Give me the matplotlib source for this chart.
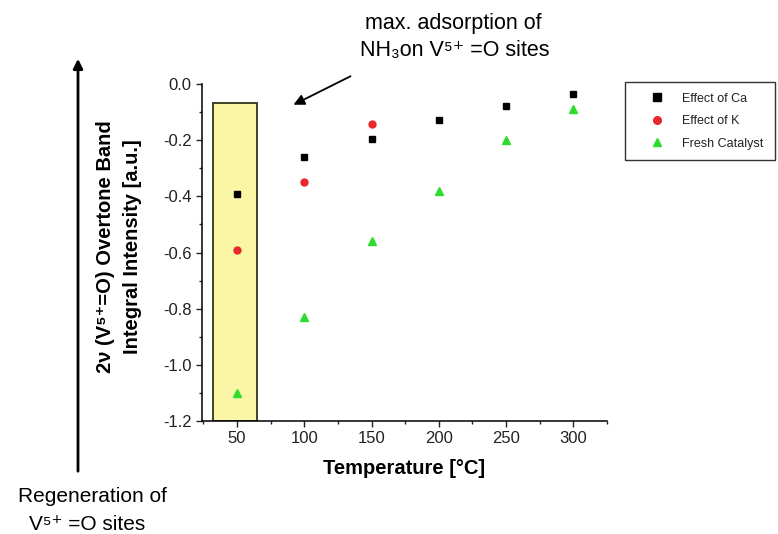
import matplotlib
matplotlib.use("Agg")
import matplotlib.pyplot as plt
from matplotlib.patches import Rectangle
from matplotlib.ticker import MultipleLocator

plt.rcParams['font.family'] = ['Liberation Sans', 'DejaVu Sans']

# integral intensity of the 2v(V5+=O) overtone band vs temperature
temps = [50, 100, 150, 200, 250, 300]
ca_vals = [-0.39, -0.26, -0.197, -0.128, -0.077, -0.037]
k_temps = [50, 100, 150]
k_vals = [-0.59, -0.348, -0.141]
fresh_vals = [-1.099, -0.83, -0.558, -0.38, -0.199, -0.09]

series_labels = ['Effect of Ca', 'Effect of K', 'Fresh Catalyst']

W, H = 778, 534
fig = plt.figure(figsize=(W / 100, H / 100), dpi=100)
ax = fig.add_axes([202 / W, 1 - 421 / H, (607 - 202) / W, (421 - 84) / H])

# highlighted 50 degC column
ax.add_patch(Rectangle((32.4, -1.2), 32.3, 1.2 - 0.069, facecolor='#fbf6a6',
                       edgecolor='#33331a', linewidth=1.3, zorder=1))

ax.plot(temps, ca_vals, 's', color='black', ms=5, label=series_labels[0], zorder=3)
ax.plot(k_temps, k_vals, 'o', color='#e8282c', ms=5, mec='#e8282c', label=series_labels[1], zorder=3)
ax.plot(temps, fresh_vals, '^', color='#2edc2e', ms=5.5, label=series_labels[2], zorder=3)

ax.set_xlim(24, 325)
ax.set_ylim(-1.2, 0.0)
ax.xaxis.set_major_locator(MultipleLocator(50))
ax.xaxis.set_minor_locator(MultipleLocator(25))
ax.yaxis.set_major_locator(MultipleLocator(0.2))
ax.yaxis.set_minor_locator(MultipleLocator(0.1))
ax.yaxis.set_major_formatter(plt.FuncFormatter(lambda v, p: f"{v:.1f}" if abs(v) > 1e-9 else "0.0"))
ax.tick_params(which='both', direction='out', labelsize=12, colors='#222222')
ax.tick_params(which='major', length=4, width=1)
ax.tick_params(which='minor', length=2.5, width=1)
for s in ['top', 'right']:
    ax.spines[s].set_visible(False)
for s in ['left', 'bottom']:
    ax.spines[s].set_linewidth(1.1)

ax.set_xlabel('Temperature [°C]', fontsize=14.5, fontweight='bold', labelpad=9)
fig.text(119 / W, 1 - 247 / H, '2ν (V⁵⁺=O) Overtone Band\nIntegral Intensity [a.u.]',
         rotation=90, ha='center', va='center', fontsize=14.5, fontweight='bold',
         linespacing=1.5)

# annotation for the adsorption maximum
fig.text(453 / W, 1 - 23 / H, 'max. adsorption of', ha='center', va='center', fontsize=15.5)
fig.text(455 / W, 1 - 50 / H, 'NH₃on V⁵⁺ =O sites', ha='center', va='center', fontsize=15.5)
ax.annotate('', xy=(291 / W, 1 - 106 / H), xycoords='figure fraction',
            xytext=(353 / W, 1 - 75 / H), textcoords='figure fraction',
            arrowprops=dict(arrowstyle='-|>', color='black', lw=1.3,
                            mutation_scale=16), annotation_clip=False)

# regeneration arrow on the left
ax.annotate('', xy=(78 / W, 1 - 56 / H), xycoords='figure fraction',
            xytext=(78 / W, 1 - 474 / H), textcoords='figure fraction',
            arrowprops=dict(arrowstyle='-|>', color='black', lw=2,
                            mutation_scale=14), annotation_clip=False)
fig.text(92 / W, 1 - 496 / H, 'Regeneration of', ha='center', va='center', fontsize=15)
fig.text(87 / W, 1 - 524 / H, 'V⁵⁺ =O sites', ha='center', va='center', fontsize=15)

leg = ax.legend(loc='upper left', bbox_to_anchor=(625 / W, 1 - 82 / H),
                bbox_transform=fig.transFigure, borderaxespad=0, fontsize=9,
                frameon=True, fancybox=False, edgecolor='black', labelspacing=0.85,
                borderpad=0.85, handletextpad=0.35, handlelength=3.4, markerscale=1.1)
leg.get_frame().set_linewidth(1.0)
for t in leg.get_texts():
    t.set_color('#222222')

fig.savefig('out.png', dpi=100)
